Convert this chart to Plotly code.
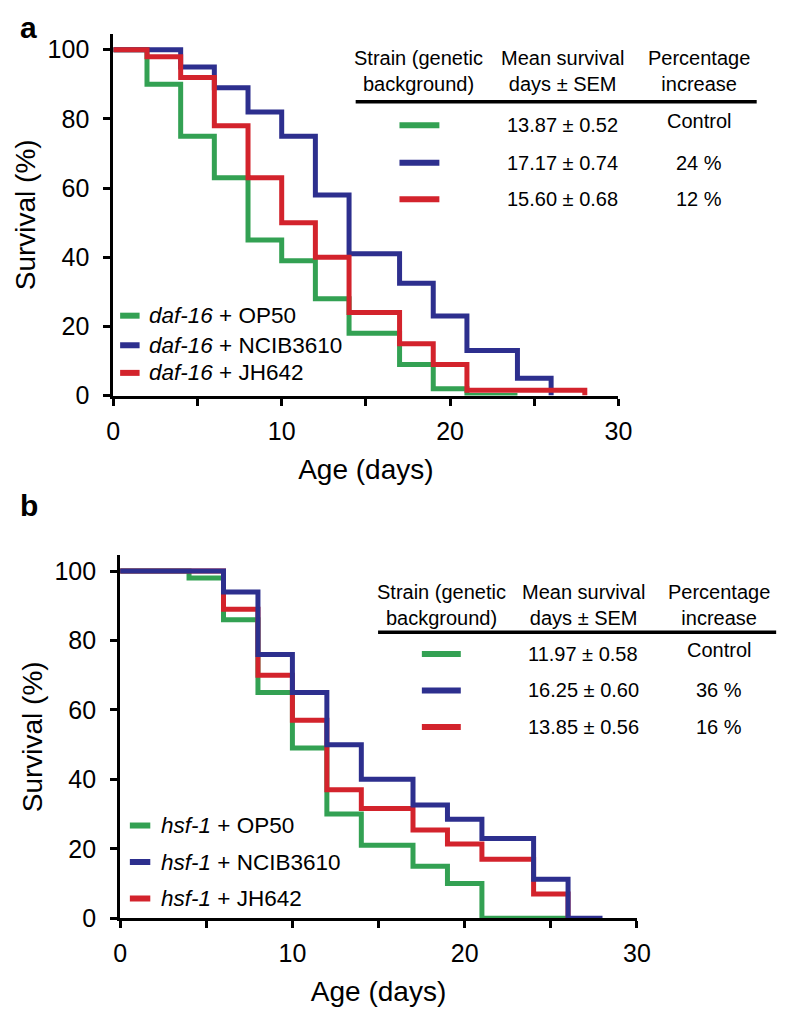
import plotly.graph_objects as go

W, H = 788, 1011

# ---------------- data ----------------
# Panel a (daf-16)
a_green_days = [0, 2, 4, 6, 8, 10, 12, 14, 17, 19, 21, 24]
a_green_surv = [100, 90, 75, 63, 45, 39, 28, 18, 9, 2, 0, 0]
a_blue_days = [0, 4, 6, 8, 10, 12, 14, 17, 19, 21, 24, 26]
a_blue_surv = [100, 95, 89, 82, 75, 58, 41, 32.5, 23, 13, 5, 0]
a_red_days = [0, 2, 4, 6, 8, 10, 12, 14, 17, 19, 21, 28]
a_red_surv = [100, 98, 92, 78, 63, 50, 40, 24, 15, 9, 1.5, 0]

# Panel b (hsf-1)
b_green_days = [0, 4, 6, 8, 10, 12, 14, 17, 19, 21, 26]
b_green_surv = [100, 98, 86, 65, 49, 30, 21, 15, 10, 0, 0]
b_red_days = [0, 6, 8, 10, 12, 14, 17, 19, 21, 24, 26]
b_red_surv = [100, 89, 70, 57, 37, 31.6, 25.4, 21.4, 17, 7, 0]
b_blue_days = [0, 6, 8, 10, 12, 14, 17, 19, 21, 24, 26, 28]
b_blue_surv = [100, 94, 76, 65, 50, 40, 32.6, 28.5, 23, 11.2, 0, 0]

a_labels = ["<i>daf-16</i> + OP50", "<i>daf-16</i> + NCIB3610", "<i>daf-16</i> + JH642"]
b_labels = ["<i>hsf-1</i> + OP50", "<i>hsf-1</i> + NCIB3610", "<i>hsf-1</i> + JH642"]
a_means = ["13.87 \u00b1 0.52", "17.17 \u00b1 0.74", "15.60 \u00b1 0.68"]
a_pct = ["Control", "24 %", "12 %"]
b_means = ["11.97 \u00b1 0.58", "16.25 \u00b1 0.60", "13.85 \u00b1 0.56"]
b_pct = ["Control", "36 %", "16 %"]
header = ["Strain (genetic<br>background)", "Mean survival<br>days \u00b1 SEM", "Percentage<br>increase"]

x_ticks = [0, 5, 10, 15, 20, 25, 30]
x_ticktext = ["0", "", "10", "", "20", "", "30"]
y_ticks = [0, 20, 40, 60, 80, 100]

GREEN = "#33a153"
BLUE = "#2d2f8e"
RED = "#d3232c"
colors = [GREEN, BLUE, RED]
FONT = "Liberation Sans, Arial, Helvetica, sans-serif"


def px(x):
    return x / W


def py(y):
    return 1 - y / H


fig = go.Figure()

# panel a traces (red on top)
for d, s, c, n in [(a_green_days, a_green_surv, GREEN, a_labels[0]),
                   (a_blue_days, a_blue_surv, BLUE, a_labels[1]),
                   (a_red_days, a_red_surv, RED, a_labels[2])]:
    fig.add_trace(go.Scatter(x=d, y=s, mode="lines", line=dict(color=c, width=5, shape="hv"),
                             name=n, xaxis="x", yaxis="y", showlegend=False))

# panel b traces (blue on top)
for d, s, c, n in [(b_green_days, b_green_surv, GREEN, b_labels[0]),
                   (b_red_days, b_red_surv, RED, b_labels[2]),
                   (b_blue_days, b_blue_surv, BLUE, b_labels[1])]:
    fig.add_trace(go.Scatter(x=d, y=s, mode="lines", line=dict(color=c, width=5, shape="hv"),
                             name=n, xaxis="x2", yaxis="y2", showlegend=False))

axis_common = dict(showline=True, linecolor="black", linewidth=3, ticks="outside",
                   ticklen=7, tickwidth=3, tickcolor="black", showgrid=False, zeroline=False,
                   tickfont=dict(size=25, color="black", family=FONT))

# panel a geometry
a_x0, a_x1 = 101, 620
a_y0, a_y100 = 393, 42.3
a_ytop = a_y0 - 104.5 * (a_y0 - a_y100) / 100
# panel b geometry
b_x0, b_x1 = 108, 639
b_y0, b_y100 = 923, 571
b_ytop = b_y0 - 104.5 * (b_y0 - b_y100) / 100

xt = dict(text="Age (days)", font=dict(size=28), standoff=16)
yt = dict(text="Survival (%)", font=dict(size=28), standoff=4)

fig.update_layout(
    width=W, height=H, margin=dict(l=0, r=0, t=0, b=0),
    paper_bgcolor="white", plot_bgcolor="white", showlegend=False,
    font=dict(family=FONT, color="black"),
    xaxis=dict(domain=[px(a_x0), px(a_x1)], range=[0, 30], anchor="y",
               tickvals=x_ticks, ticktext=x_ticktext, ticklabelstandoff=4,
               title=xt, **axis_common),
    yaxis=dict(domain=[py(a_y0), py(a_ytop)], range=[0, 104.5], anchor="x",
               tickvals=y_ticks, ticklabelstandoff=9,
               title=yt, **axis_common),
    xaxis2=dict(domain=[px(b_x0), px(b_x1)], range=[0, 30], anchor="y2",
                tickvals=x_ticks, ticktext=x_ticktext, ticklabelstandoff=4,
                title=xt, **axis_common),
    yaxis2=dict(domain=[py(b_y0), py(b_ytop)], range=[0, 104.5], anchor="x2",
                tickvals=y_ticks, ticklabelstandoff=9,
                title=yt, **axis_common),
)

annotations = []
shapes = []

# panel letters
annotations.append(dict(x=px(3), y=py(1), xref="paper", yref="paper", text="<b>a</b>",
                        showarrow=False, xanchor="left", yanchor="top", font=dict(size=30)))
annotations.append(dict(x=px(3), y=py(504), xref="paper", yref="paper", text="<b>b</b>",
                        showarrow=False, xanchor="left", yanchor="middle", font=dict(size=30)))


def add_legend(labels, mx0, mx1, tx, rows):
    for lab, c, ry in zip(labels, colors, rows):
        shapes.append(dict(type="line", xref="paper", yref="paper", x0=px(mx0), x1=px(mx1),
                           y0=py(ry), y1=py(ry), line=dict(color=c, width=6)))
        annotations.append(dict(x=px(tx), y=py(ry), xref="paper", yref="paper", text=lab,
                                showarrow=False, xanchor="left", yanchor="middle",
                                font=dict(size=22.5)))


def add_table(cols_x, head_y, rule_x0, rule_x1, rule_y, rows, mk_x0, mk_x1, means, pct):
    for h, cx in zip(header, cols_x):
        annotations.append(dict(x=px(cx), y=py(head_y), xref="paper", yref="paper", text=h,
                                showarrow=False, xanchor="center", yanchor="middle",
                                align="center", font=dict(size=20)))
    shapes.append(dict(type="line", xref="paper", yref="paper", x0=px(rule_x0), x1=px(rule_x1),
                       y0=py(rule_y), y1=py(rule_y), line=dict(color="black", width=3.5)))
    for c, m, p, ry in zip(colors, means, pct, rows):
        shapes.append(dict(type="line", xref="paper", yref="paper", x0=px(mk_x0), x1=px(mk_x1),
                           y0=py(ry), y1=py(ry), line=dict(color=c, width=6)))
        annotations.append(dict(x=px(cols_x[1]), y=py(ry), xref="paper", yref="paper", text=m,
                                showarrow=False, xanchor="center", yanchor="middle",
                                font=dict(size=20)))
        dy = -4 if p == "Control" else 0
        annotations.append(dict(x=px(cols_x[2]), y=py(ry + dy), xref="paper", yref="paper", text=p,
                                showarrow=False, xanchor="center", yanchor="middle",
                                font=dict(size=20)))


add_legend(a_labels, 108, 128, 136, [312, 342, 370])
add_legend(b_labels, 118, 139, 148, [829, 866, 903])
add_table([415, 563, 703], 64, 350, 762, 95, [119, 157, 194], 395, 436, a_means, a_pct)
add_table([438, 584, 723], 605, 373, 782, 633, [655, 692, 729], 418, 458, b_means, b_pct)

fig.update_layout(annotations=annotations, shapes=shapes)
fig.write_html("out.html")
